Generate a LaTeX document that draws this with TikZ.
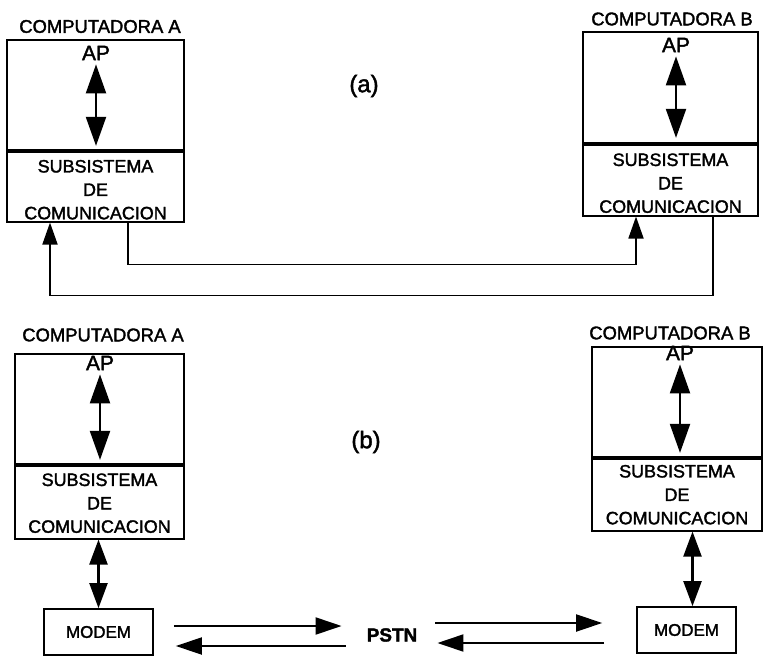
\documentclass[tikz,border=0pt]{standalone}
\usepackage{fontspec}
\setmainfont{Liberation Sans}[FakeBold=1.8]
\usetikzlibrary{positioning,arrows.meta,calc}

\begin{document}
\begin{tikzpicture}[x=1bp,y=-1bp,
  caja/.style={draw,line width=1.7bp,inner sep=0pt},
  titulo/.style={font=\fontsize{18.5}{20}\selectfont,inner sep=0pt},
  texto/.style={font=\fontsize{18}{23.5}\selectfont,align=center,inner sep=0pt},
  apt/.style={font=\fontsize{21}{23}\selectfont,inner sep=1bp},
  letra/.style={font=\fontsize{24}{26}\selectfont,inner sep=0pt},
  modem/.style={font=\fontsize{17}{19}\selectfont,inner sep=0pt},
  doble/.style={line width=2.2bp,{Triangle[length=29bp,width=20bp]}-{Triangle[length=29bp,width=20bp]}},
  flecha/.style={line width=2bp,-{Triangle[length=26bp,width=17bp]}},
  linea/.style={line width=1.8bp}]

\useasboundingbox (0,0) rectangle (764,657);

% (a)
\node[caja,minimum width=177bp,minimum height=110bp] (CA1) at (95.5,95) {};
\node[caja,minimum width=177bp,minimum height=70bp,anchor=north] (SA1) at (CA1.south) {};
\node[titulo] (TA1) at (100,26.5) {COMPUTADORA A};
\node[apt] (AP1) at (96,53) {AP};
\node[texto] (XA1) at ($(SA1.center)+(0,3)$) {SUBSISTEMA\\DE\\COMUNICACION};

\node[caja,minimum width=175bp,minimum height=111bp] (CB1) at (670.5,87.5) {};
\node[caja,minimum width=175bp,minimum height=71bp,anchor=north] (SB1) at (CB1.south) {};
\node[titulo] (TB1) at (672,19) {COMPUTADORA B};
\node[apt] (BP1) at (676,45) {AP};
\node[texto] (XB1) at ($(SB1.center)+(0,3)$) {SUBSISTEMA\\DE\\COMUNICACION};

\node[letra] (LA) at (364,86) {(a)};

\draw[doble,shorten <=3bp,shorten >=5bp] (AP1.south) -- (AP1.south |- SA1.north);
\draw[doble,shorten <=3bp,shorten >=6bp] (BP1.south) -- (BP1.south |- SB1.north);

\draw[linea,-{Triangle[length=22bp,width=15bp]}] ([xshift=32.5bp]SA1.south) -- ++(0,42) -| ([xshift=-34.5bp]SB1.south);
\draw[linea,-{Triangle[length=22bp,width=15bp]}] ([xshift=42.5bp]SB1.south) -- ++(0,79) -| ([xshift=-45.5bp]SA1.south);

% (b)
\node[caja,minimum width=169bp,minimum height=110bp] (CA2) at (99.5,409) {};
\node[caja,minimum width=169bp,minimum height=73bp,anchor=north] (SA2) at (CA2.south) {};
\node[titulo] (TA2) at (103,335) {COMPUTADORA A};
\node[apt] (AP2) at (100,363) {AP};
\node[texto] (XA2) at ($(SA2.center)+(0,1)$) {SUBSISTEMA\\DE\\COMUNICACION};
\node[caja,minimum width=109bp,minimum height=46bp] (MA) at (98.5,632) {};
\node[modem] (MTA) at (MA.center) {MODEM};

\node[caja,minimum width=170bp,minimum height=110bp] (CB2) at (677,402) {};
\node[caja,minimum width=170bp,minimum height=72bp,anchor=north] (SB2) at (CB2.south) {};
\node[titulo] (TB2) at (670,333) {COMPUTADORA B};
\node[apt] (BP2) at (680,353) {AP};
\node[texto] (XB2) at ($(SB2.center)+(0,0)$) {SUBSISTEMA\\DE\\COMUNICACION};
\node[caja,minimum width=99bp,minimum height=46bp] (MB) at (686.5,630) {};
\node[modem] (MTB) at (MB.center) {MODEM};

\node[letra] (LB) at (366,442) {(b)};
\node[font=\bfseries\fontsize{19}{21}\selectfont,inner sep=0pt] (PSTN) at (392,635) {PSTN};

\draw[doble,shorten <=3bp,shorten >=5bp] (AP2.south) -- (AP2.south |- SA2.north);
\draw[doble,shorten <=3bp,shorten >=5bp] (BP2.south) -- (BP2.south |- SB2.north);
\draw[doble,{Triangle[length=25bp,width=18bp]}-{Triangle[length=25bp,width=18bp]}] (MA.north |- SA2.south) -- (MA.north);
\draw[doble,{Triangle[length=25bp,width=18bp]}-{Triangle[length=25bp,width=18bp]}] ([xshift=6bp]MB.north |- SB2.south) -- ([xshift=6bp]MB.north);

\draw[flecha] ($(MA.east |- PSTN)+(20,-9)$) -- ($(PSTN.west)+(-25,-9)$);
\draw[flecha] ($(PSTN.west)+(-21,11)$) -- ($(MA.east |- PSTN)+(22,11)$);
\draw[flecha] ($(PSTN.east)+(18,-12)$) -- ($(MB.west |- PSTN)+(-34,-12)$);
\draw[flecha] ($(MB.west |- PSTN)+(-32,8)$) -- ($(PSTN.east)+(20,8)$);

\end{tikzpicture}
\end{document}
